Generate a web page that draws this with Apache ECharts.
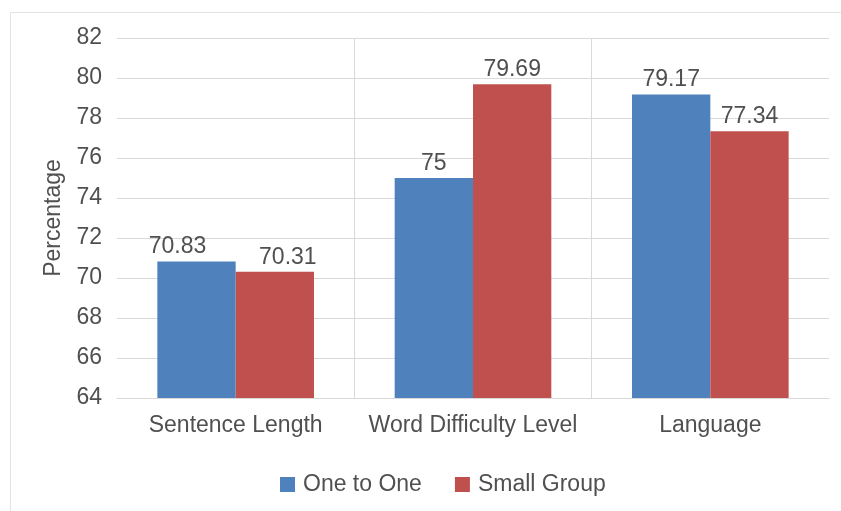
<!DOCTYPE html>
<html><head><meta charset="utf-8">
<script src="https://cdn.jsdelivr.net/npm/echarts@6/dist/echarts.min.js"></script>
<style>html,body{margin:0;padding:0;background:#fff}#c{width:841px;height:511px}</style>
</head><body><div id="c"></div>
<script>
const categories = ["Sentence Length", "Word Difficulty Level", "Language"];
const oneToOne = [70.83, 75, 79.17];
const smallGroup = [70.31, 79.69, 77.34];
const seriesNames = ["One to One", "Small Group"];
const yTicks = [64, 66, 68, 70, 72, 74, 76, 78, 80, 82];

const chart = echarts.init(document.getElementById('c'), null, {renderer: 'canvas'});
const font = '"Liberation Sans", Arial, sans-serif';
const txt = '#505050';
const fs = 23;
const labelCfg = {show: true, position: 'top', distance: 3, color: txt, fontSize: fs, fontFamily: font,
  formatter: p => String(p.value)};
// the first category's labels are nudged apart, as in the original
const withOffset = (arr, dx) => arr.map((v, i) => i === 0 ? {value: v, label: {offset: [dx, 0]}} : v);
chart.setOption({
  animation: false,
  backgroundColor: '#fff',
  graphic: [{type: 'rect', shape: {x: 10.5, y: 12.5, width: 840, height: 510}, style: {fill: 'none', stroke: '#e3e3e3', lineWidth: 1}, silent: true}],
  grid: {left: 117, right: 12, top: 38, bottom: 113},
  legend: {data: seriesNames, left: 275, top: 468, itemWidth: 15, itemHeight: 15, itemGap: 33,
    icon: 'rect', textStyle: {color: txt, fontSize: fs, fontFamily: font, padding: [0, 0, 0, 3]}},
  xAxis: {type: 'category', data: categories,
    axisLine: {show: true, lineStyle: {color: '#d9d9d9'}}, axisTick: {show: false},
    axisLabel: {interval: 0, color: txt, fontSize: fs, fontFamily: font, margin: 16},
    splitLine: {show: true, interval: 0, showMinLine: false, showMaxLine: false, lineStyle: {color: '#d9d9d9'}}},
  yAxis: {type: 'value', min: yTicks[0], max: yTicks[yTicks.length-1], interval: 2,
    name: 'Percentage', nameLocation: 'middle', nameGap: 52, nameRotate: 90,
    nameTextStyle: {color: txt, fontSize: fs, fontFamily: font},
    axisLine: {show: false}, axisTick: {show: false},
    axisLabel: {color: txt, fontSize: fs, fontFamily: font, margin: 15},
    splitLine: {lineStyle: {color: '#d9d9d9'}}},
  series: [
    {name: seriesNames[0], type: 'bar', data: withOffset(oneToOne, -19), itemStyle: {color: '#4F81BD'}, barGap: '0%', barCategoryGap: '34%', label: labelCfg},
    {name: seriesNames[1], type: 'bar', data: withOffset(smallGroup, 13), itemStyle: {color: '#C0504D'}, barGap: '0%', barCategoryGap: '34%', label: labelCfg}
  ]
});
</script></body></html>
